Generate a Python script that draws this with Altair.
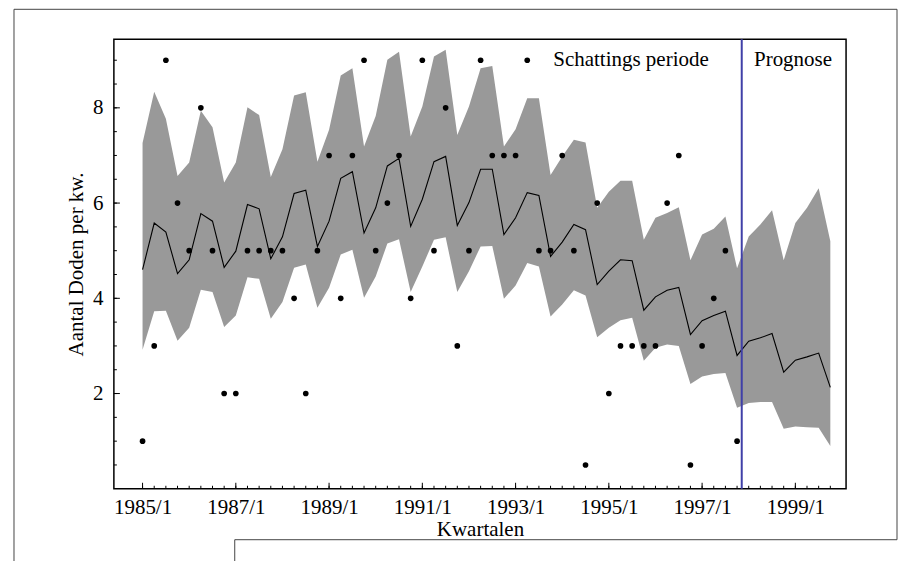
import altair as alt
import pandas as pd

# quarter index 0 = 1985/1
obs_q = list(range(52))
obs_val = [1, 3, 9, 6, 5, 8, 5, 2, 2, 5, 5, 5, 5, 4, 2, 5, 7, 4, 7, 9,
           5, 6, 7, 4, 9, 5, 8, 3, 5, 9, 7, 7, 7, 9, 5, 5, 7, 5, 0.5, 6,
           2, 3, 3, 3, 3, 6, 7, 0.5, 3, 4, 5, 1]

fit_q = list(range(60))
fit_mid = [4.60, 5.58, 5.39, 4.52, 4.81, 5.78, 5.62, 4.65, 4.99, 5.97,
           5.88, 4.83, 5.29, 6.20, 6.27, 5.09, 5.62, 6.52, 6.66, 5.37,
           5.90, 6.78, 6.94, 5.51, 6.08, 6.87, 6.98, 5.53, 6.01, 6.71,
           6.71, 5.34, 5.69, 6.22, 6.16, 4.88, 5.18, 5.55, 5.44, 4.29,
           4.57, 4.81, 4.79, 3.75, 4.03, 4.17, 4.23, 3.24, 3.53, 3.64,
           3.73, 2.80, 3.10, 3.17, 3.26, 2.45, 2.70, 2.77, 2.85, 2.13]
fit_hi = [7.26, 8.34, 7.77, 6.57, 6.85, 7.94, 7.59, 6.43, 6.85, 8.01,
          7.85, 6.55, 7.13, 8.26, 8.33, 6.87, 7.54, 8.68, 8.83, 7.19,
          7.83, 9.01, 9.18, 7.40, 8.03, 9.08, 9.22, 7.43, 8.03, 8.83,
          8.88, 7.19, 7.55, 8.20, 8.20, 6.59, 6.98, 7.33, 7.27, 5.90,
          6.24, 6.47, 6.47, 5.23, 5.69, 5.79, 5.91, 4.80, 5.34, 5.46,
          5.72, 4.63, 5.30, 5.55, 5.85, 4.80, 5.58, 5.90, 6.31, 5.20]
fit_lo = [2.92, 3.73, 3.74, 3.11, 3.38, 4.18, 4.13, 3.40, 3.64, 4.44,
          4.41, 3.57, 3.92, 4.64, 4.71, 3.80, 4.22, 4.92, 5.02, 4.01,
          4.46, 5.15, 5.24, 4.13, 4.67, 5.23, 5.28, 4.13, 4.57, 5.09,
          5.10, 3.99, 4.27, 4.74, 4.67, 3.62, 3.87, 4.17, 4.06, 3.18,
          3.38, 3.54, 3.59, 2.69, 2.96, 3.03, 3.00, 2.20, 2.36, 2.41,
          2.43, 1.70, 1.80, 1.82, 1.82, 1.26, 1.31, 1.29, 1.28, 0.90]

tick_major_x = [0, 8, 16, 24, 32, 40, 48, 56]
tick_minor_x = list(range(60))
tick_major_y = [2, 4, 6, 8]
tick_minor_y = [0.5 * i for i in range(1, 19)]

split_q = 51.4
labels = ["Schattings periode", "Prognose"]
label_q = [41.9, 55.8]
label_y = [9.0, 9.0]

FONT = "Liberation Serif"
FS = 21
W, H = 733, 450

obs = pd.DataFrame({"q": obs_q, "v": obs_val})
fit = pd.DataFrame({"q": fit_q, "mid": fit_mid, "hi": fit_hi, "lo": fit_lo})
txt = pd.DataFrame({"q": label_q, "v": label_y, "t": labels})

xs = alt.Scale(domain=[-2.46, 60.35], nice=False, zero=False)
ys = alt.Scale(domain=[0, 9.44], nice=False, zero=False)

xax = alt.Axis(values=tick_major_x, labelExpr="(1985 + datum.value/4) + '/1'",
               ticks=False, domain=False, grid=False, labelFont=FONT,
               labelFontSize=FS, labelColor="black", labelPadding=8,
               title="Kwartalen", titleFont=FONT, titleFontSize=FS,
               titleFontWeight="normal", titleColor="black", titlePadding=1)
yax = alt.Axis(values=tick_major_y, ticks=False, domain=False, grid=False,
               labelFont=FONT, labelFontSize=FS, labelColor="black",
               labelPadding=11, title="Aantal Doden per kw.", titleFont=FONT,
               titleFontSize=FS, titleFontWeight="normal", titleColor="black",
               titlePadding=6)

band = alt.Chart(fit).mark_area(color="#999999", opacity=1).encode(
    x=alt.X("q:Q", scale=xs, axis=xax),
    y=alt.Y("lo:Q", scale=ys, axis=yax),
    y2="hi:Q",
)
line = alt.Chart(fit).mark_line(color="black", strokeWidth=1.1).encode(
    x=alt.X("q:Q", scale=xs), y=alt.Y("mid:Q", scale=ys)
)
pts = alt.Chart(obs).mark_circle(color="black", size=32, opacity=1).encode(
    x=alt.X("q:Q", scale=xs), y=alt.Y("v:Q", scale=ys)
)
vline = alt.Chart(pd.DataFrame({"q": [split_q]})).mark_rule(
    color="#4040a8", strokeWidth=2).encode(x=alt.X("q:Q", scale=xs))
texts = alt.Chart(txt).mark_text(font=FONT, fontSize=FS, color="black",
                                 baseline="middle", align="center").encode(
    x=alt.X("q:Q", scale=xs), y=alt.Y("v:Q", scale=ys), text="t:N")

xminor = alt.Chart(pd.DataFrame({"q": tick_minor_x})).mark_rule(
    color="black", strokeWidth=1).encode(
    x=alt.X("q:Q", scale=xs), y=alt.value(H), y2=alt.value(H - 3))
xmajor = alt.Chart(pd.DataFrame({"q": tick_major_x})).mark_rule(
    color="black", strokeWidth=1).encode(
    x=alt.X("q:Q", scale=xs), y=alt.value(H), y2=alt.value(H - 6))
yminor = alt.Chart(pd.DataFrame({"v": tick_minor_y})).mark_rule(
    color="black", strokeWidth=1).encode(
    y=alt.Y("v:Q", scale=ys), x=alt.value(0), x2=alt.value(3))
ymajor = alt.Chart(pd.DataFrame({"v": tick_major_y})).mark_rule(
    color="black", strokeWidth=1).encode(
    y=alt.Y("v:Q", scale=ys), x=alt.value(0), x2=alt.value(6))

# outer page frame (decoration, pixel offsets relative to the plot area)
fcol = "#444444"
f_top = alt.Chart().mark_rule(color=fcol, strokeWidth=1).encode(
    x=alt.value(-100), x2=alt.value(784), y=alt.value(-30))
f_left = alt.Chart().mark_rule(color=fcol, strokeWidth=1).encode(
    x=alt.value(-100), y=alt.value(-30), y2=alt.value(530))
f_right = alt.Chart().mark_rule(color=fcol, strokeWidth=1).encode(
    x=alt.value(784), y=alt.value(-30), y2=alt.value(501))
f_bottom = alt.Chart().mark_rule(color=fcol, strokeWidth=1).encode(
    x=alt.value(121), x2=alt.value(784), y=alt.value(501))
f_notch = alt.Chart().mark_rule(color=fcol, strokeWidth=1).encode(
    x=alt.value(121), y=alt.value(501), y2=alt.value(530))

chart = alt.layer(band, line, pts, vline, texts, xminor, xmajor, yminor, ymajor,
                  f_top, f_left, f_right, f_bottom, f_notch).properties(
    width=W, height=H,
    autosize=alt.AutoSizeParams(type="none"),
    padding={"left": 106, "top": 31, "right": 58, "bottom": 75},
).configure(
    background="white",
    view=alt.ViewConfig(stroke="black", strokeWidth=1.5),
)

chart.save("out.html", embed_options={"renderer": "svg", "actions": False})
